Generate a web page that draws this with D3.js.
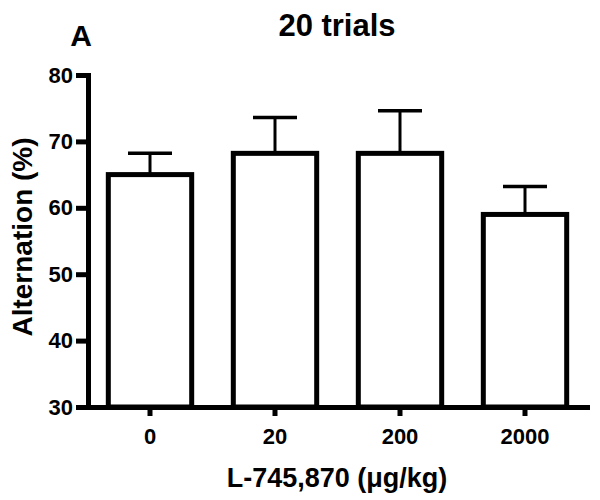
<!DOCTYPE html>
<html>
<head>
<meta charset="utf-8">
<script src="https://cdn.jsdelivr.net/npm/d3@7"></script>
<style>
  body { margin: 0; background: #fff; }
  text { font-family: "Liberation Sans", Arial, sans-serif; font-weight: bold; fill: #000; }
  .axis path, .axis line { stroke: #000; stroke-width: 5; }
  .axis text { font-size: 22px; }
</style>
</head>
<body>
<script>
// Chart data
var doses = ["0", "20", "200", "2000"];
var means = [65.0, 68.2, 68.2, 59.0];
var errTops = [68.2, 73.6, 74.6, 63.2];
var yTicks = [30, 40, 50, 60, 70, 80];

// Define SVG area dimensions
var svgWidth = 600;
var svgHeight = 500;

var svg = d3.select("body")
  .append("svg")
  .attr("width", svgWidth)
  .attr("height", svgHeight);

// Scales
var xBandScale = d3.scaleBand()
  .range([88, 587])
  .domain(doses)
  .paddingInner(0.333)
  .paddingOuter(0.1625);

var yLinearScale = d3.scaleLinear()
  .range([407, 75])
  .domain([30, 80]);

// Bars
svg.selectAll(".bar")
  .data(means)
  .enter()
  .append("rect")
  .attr("x", (d, i) => xBandScale(doses[i]))
  .attr("y", d => yLinearScale(d))
  .attr("width", xBandScale.bandwidth())
  .attr("height", d => yLinearScale(30) - yLinearScale(d))
  .attr("fill", "#fff")
  .attr("stroke", "#000")
  .attr("stroke-width", 5);

// Error bars (upper only)
var cx = i => xBandScale(doses[i]) + xBandScale.bandwidth() / 2;

svg.selectAll(".stem")
  .data(errTops)
  .enter()
  .append("line")
  .attr("x1", (d, i) => cx(i))
  .attr("x2", (d, i) => cx(i))
  .attr("y1", (d, i) => yLinearScale(means[i]))
  .attr("y2", d => yLinearScale(d))
  .attr("stroke", "#000")
  .attr("stroke-width", 3);

svg.selectAll(".cap")
  .data(errTops)
  .enter()
  .append("line")
  .attr("x1", (d, i) => cx(i) - 22)
  .attr("x2", (d, i) => cx(i) + 22)
  .attr("y1", d => yLinearScale(d))
  .attr("y2", d => yLinearScale(d))
  .attr("stroke", "#000")
  .attr("stroke-width", 3.5);

// Axes
var leftAxis = d3.axisLeft(yLinearScale)
  .tickValues(yTicks)
  .tickSizeInner(12)
  .tickSizeOuter(0)
  .tickPadding(3);

var bottomAxis = d3.axisBottom(xBandScale)
  .tickSizeInner(9)
  .tickSizeOuter(0)
  .tickPadding(12);

svg.append("g")
  .classed("axis", true)
  .attr("transform", "translate(88, 0)")
  .call(leftAxis);

svg.append("g")
  .classed("axis", true)
  .attr("transform", "translate(0, 407)")
  .call(bottomAxis);

d3.selectAll(".axis .domain").attr("stroke-linecap", "square");

// Titles
svg.append("text")
  .attr("x", 337)
  .attr("y", 36)
  .attr("text-anchor", "middle")
  .style("font-size", "31px")
  .text("20 trials");

svg.append("text")
  .attr("x", 81)
  .attr("y", 46)
  .attr("text-anchor", "middle")
  .style("font-size", "30px")
  .text("A");

svg.append("text")
  .attr("x", 337)
  .attr("y", 487)
  .attr("text-anchor", "middle")
  .style("font-size", "27px")
  .text("L-745,870 (\u03bcg/kg)");

svg.append("text")
  .attr("transform", "translate(32, 237) rotate(-90)")
  .attr("text-anchor", "middle")
  .style("font-size", "28px")
  .text("Alternation (%)");
</script>
</body>
</html>
